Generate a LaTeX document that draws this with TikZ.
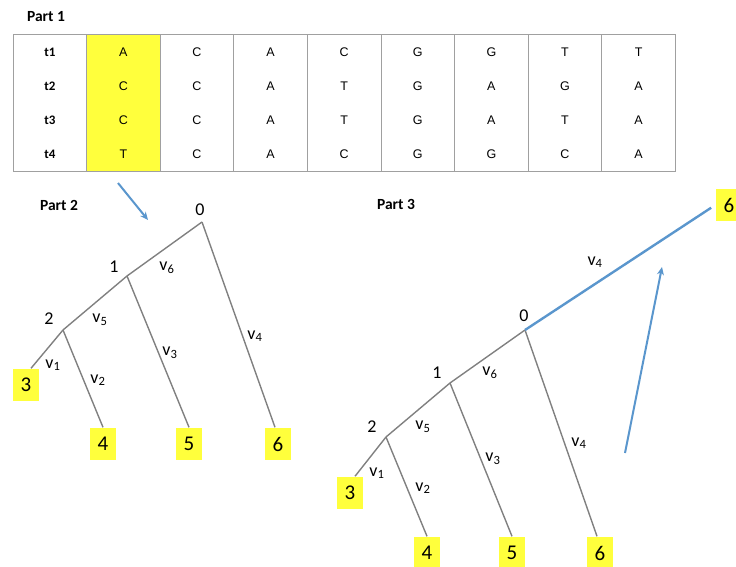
\documentclass[tikz,border=0pt]{standalone}
\usepackage{fontspec}
\setmainfont{Carlito}
\newfontfamily\seqfont{Liberation Sans}
\usetikzlibrary{arrows.meta}

\definecolor{hilite}{RGB}{255,255,60}
\definecolor{branch}{RGB}{128,128,128}
\definecolor{pointer}{RGB}{90,150,205}
\definecolor{gridline}{RGB}{160,160,160}

\begin{document}
\begin{tikzpicture}[
    x=1pt, y=-1pt,
    >=Stealth,
    line width=1.4pt,
    every node/.style={font=\fontsize{18}{18}\selectfont},
    part/.style={font=\fontsize{15.5}{16}\selectfont\bfseries},
    base/.style={font=\fontsize{12.5}{13}\selectfont\seqfont},
    taxon/.style={font=\fontsize{13}{13}\selectfont\bfseries},
    leaf/.style={fill=hilite, minimum width=26pt, minimum height=32pt,
                 inner sep=0pt, font=\fontsize{21}{21}\selectfont},
    edge/.style={draw=branch},
    moved/.style={draw=pointer, line width=2.4pt},
    hint/.style={draw=pointer, line width=2pt, -{Stealth[length=8pt,width=7pt]}}
]
\useasboundingbox (0,0) rectangle (736,567);

\def\cw{73.6}
\def\rh{34}

% Part 1: the alignment
\node[part] (p1) at (46,17) {Part 1};
\fill[hilite] (13+\cw,35) rectangle (13+2*\cw,171);
\draw[gridline, line width=1pt] (13,35) rectangle (675,171);
\foreach \k in {1,...,8}
    \draw[gridline, line width=1pt] (13+\k*\cw,35) -- (13+\k*\cw,171);

\foreach \i/\seq in {1/{A,C,A,C,G,G,T,T},
                     2/{C,C,A,T,G,A,G,A},
                     3/{C,C,A,T,G,A,T,A},
                     4/{T,C,A,C,G,G,C,A}}{
    \node[taxon] (t\i) at (13+0.5*\cw,35+\i*\rh-0.5*\rh) {t\i};
    \foreach \b [count=\j] in \seq
        \node[base] (s\i\j) at (13+\j*\cw+0.5*\cw,35+\i*\rh-0.5*\rh) {\b};
}

% Part 2: rooted at 0
\node[part] (p2) at (59,205) {Part 2};

\coordinate (a0) at (202,222);
\coordinate (a1) at (127,276);
\coordinate (a2) at (63,330);
\node[leaf] (a3) at (26,385) {3};
\node[leaf] (a4) at (103,444) {4};
\node[leaf] (a5) at (189,444) {5};
\node[leaf] (a6) at (278,444) {6};

\node (n0) at (200,210) {0};
\node (n1) at (114,267) {1};
\node (n2) at (49,319) {2};

\draw[edge] (a0) -- (a1) -- (a2) -- ([xshift=5pt]a3.north);
\draw[edge] (a2) -- (a4.north);
\draw[edge] (a1) -- (a5.north);
\draw[edge] (a0) -- ([xshift=-3pt]a6.north);

\node (e6) at (167,268) {v\textsubscript{6}};
\node (e5) at (100,320) {v\textsubscript{5}};
\node (e4) at (255,336) {v\textsubscript{4}};
\node (e3) at (170,353) {v\textsubscript{3}};
\node (e1) at (53,365) {v\textsubscript{1}};
\node (e2) at (98,380) {v\textsubscript{2}};

\coordinate (c0) at (118,183);
\coordinate (c1) at (148,220);
\draw[hint] (c0) -- (c1);

% Part 3: root moved onto the v4 branch
\node[part] (p3) at (396,204) {Part 3};

\coordinate (b0) at (525,330);
\coordinate (b1) at (450,383);
\coordinate (b2) at (386,437);
\node[leaf] (b3) at (350,493) {3};
\node[leaf] (b4) at (427,553) {4};
\node[leaf] (b5) at (512,553) {5};
\node[leaf] (b6) at (600,553) {6};
\node[leaf] (b7) at (729,205) {6};

\node (m0) at (524,316) {0};
\node (m1) at (437,373) {1};
\node (m2) at (372,427) {2};

\draw[edge] (b0) -- (b1) -- (b2) -- ([xshift=5pt]b3.north);
\draw[edge] (b2) -- (b4.north);
\draw[edge] (b1) -- (b5.north);
\draw[edge] (b0) -- ([xshift=-3pt]b6.north);
\draw[moved, shorten >=5pt] (b0) -- (b7.west);

\node (f4) at (595,262) {v\textsubscript{4}};
\node (f6) at (490,373) {v\textsubscript{6}};
\node (f5) at (423,427) {v\textsubscript{5}};
\node (g4) at (579,443) {v\textsubscript{4}};
\node (f3) at (493,459) {v\textsubscript{3}};
\node (f1) at (377,473) {v\textsubscript{1}};
\node (f2) at (423,488) {v\textsubscript{2}};

\coordinate (d0) at (625,453);
\coordinate (d1) at (662,267);
\draw[hint] (d0) -- (d1);

\end{tikzpicture}
\end{document}
